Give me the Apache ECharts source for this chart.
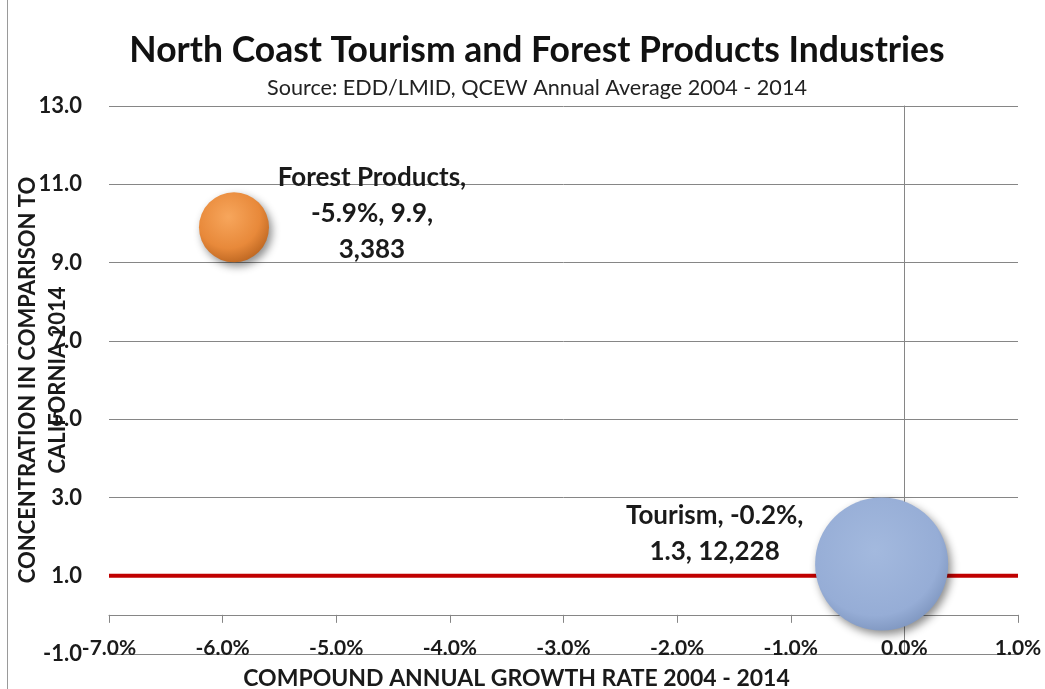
<!DOCTYPE html>
<html><head><meta charset="utf-8">
<script src="https://cdn.jsdelivr.net/npm/echarts@6/dist/echarts.min.js"></script>
<style>html,body{margin:0;padding:0;background:#fff}#c{width:1045px;height:689px}</style>
</head><body><div id="c"></div>
<script>
const categories = ['Forest Products', 'Tourism'];
const growthRate = [-5.9, -0.2];       // % CAGR 2004-2014
const concentration = [9.9, 1.3];      // location quotient 2014
const employment = [3383, 12228];      // bubble size
const referenceLevel = 1.0;
const xMin = -7, xMax = 1, xStep = 1;
const yMin = -1, yMax = 13, yStep = 2;

const FONT = 'Lato';
const txt = '#1a1a1a';
const fmtInt = v => v.toLocaleString('en-US');
const sizeK = 70 / Math.sqrt(3383);

const bubbleStyles = [
  { color: { type: 'radial', x: 0.42, y: 0.35, r: 0.75,
      colorStops: [{offset:0,color:'#F7A65C'},{offset:0.6,color:'#E8893A'},{offset:1,color:'#B05C1A'}] } },
  { color: { type: 'radial', x: 0.45, y: 0.4, r: 0.75,
      colorStops: [{offset:0,color:'#A3B9DE'},{offset:0.65,color:'#96ADD6'},{offset:1,color:'#6A82AC'}] } }
];
const labelFormats = [
  (n, x, y, s) => `${n},\n${x.toFixed(1)}%, ${y.toFixed(1)},\n${fmtInt(s)}`,
  (n, x, y, s) => `${n}, ${x.toFixed(1)}%,\n${y.toFixed(1)}, ${fmtInt(s)}`
];
const labelOffsets = [[138, -14], [-167, -30]];

const series = [{
  type: 'line',
  data: [[xMin, referenceLevel], [xMax, referenceLevel]],
  symbol: 'none',
  lineStyle: { color: '#C00000', width: 4 },
  silent: true, z: 1
}];
categories.forEach((name, i) => {
  series.push({
    type: 'scatter',
    name,
    data: [[growthRate[i], concentration[i], employment[i]]],
    symbolSize: d => sizeK * Math.sqrt(d[2]),
    itemStyle: Object.assign({ opacity: 1, shadowBlur: 8, shadowColor: 'rgba(0,0,0,0.45)', shadowOffsetX: 3, shadowOffsetY: 4 }, bubbleStyles[i]),
    label: {
      show: true, position: 'inside', offset: labelOffsets[i],
      formatter: p => labelFormats[i](name, p.value[0], p.value[1], p.value[2]),
      fontFamily: FONT, fontWeight: 'bold', fontSize: 26, lineHeight: 36, color: txt, align: 'center',
      textBorderWidth: 0
    },
    emphasis: { disabled: true },
    z: 10
  });
});

const chart = echarts.init(document.getElementById('c'));
chart.setOption({
  backgroundColor: '#fff',
  animation: false,
  title: {
    text: 'North Coast Tourism and Forest Products Industries',
    subtext: 'Source: EDD/LMID, QCEW Annual Average 2004 - 2014',
    left: 532, textAlign: 'center', top: 28, itemGap: 8,
    textStyle: { fontFamily: FONT, fontWeight: 'bold', fontSize: 35.5, color: '#111' },
    subtextStyle: { fontFamily: FONT, fontSize: 21.6, color: '#222' }
  },
  grid: { left: 109, right: 27, top: 106, bottom: 35, containLabel: false, outerBoundsMode: 'none' },
  xAxis: [{
    type: 'value', min: xMin, max: xMax, interval: xStep,
    axisLine: { show: true, onZero: true, lineStyle: { color: '#868686', width: 1 } },
    axisTick: { show: true, length: 8, lineStyle: { color: '#868686' } },
    axisLabel: { show: false }, splitLine: { show: false }
  }, {
    type: 'value', min: xMin, max: xMax, interval: xStep, position: 'bottom', offset: -16,
    axisLine: { show: false, onZero: false }, axisTick: { show: false }, splitLine: { show: false },
    axisLabel: { show: true, margin: 0, fontFamily: FONT, fontWeight: 'bold', fontSize: 21, color: txt,
      formatter: v => v.toFixed(1) + '%' },
    name: 'COMPOUND ANNUAL GROWTH RATE 2004 - 2014', nameLocation: 'middle', nameGap: 29, nameMoveOverlap: false,
    nameTextStyle: { fontFamily: FONT, fontWeight: 'bold', fontSize: 23, color: txt, padding: [0, 94, 0, 0] }
  }],
  yAxis: [{
    type: 'value', min: yMin, max: yMax, interval: yStep,
    axisLine: { show: true, onZero: true, lineStyle: { color: '#868686', width: 1 } },
    axisTick: { show: false }, axisLabel: { show: false },
    splitLine: { show: true, lineStyle: { color: '#868686', width: 1 } }
  }, {
    type: 'value', min: yMin, max: yMax, interval: yStep, position: 'left',
    axisLine: { show: false, onZero: false }, axisTick: { show: false }, splitLine: { show: false },
    axisLabel: { show: true, margin: 27, fontFamily: FONT, fontWeight: 'bold', fontSize: 22, color: txt,
      formatter: v => v.toFixed(1) },
    name: 'CONCENTRATION IN COMPARISON TO\nCALIFORNIA 2014', nameLocation: 'middle', nameRotate: 90, nameGap: 36,
    nameMoveOverlap: false,
    nameTextStyle: { fontFamily: FONT, fontWeight: 'bold', fontSize: 22, lineHeight: 30, color: txt, align: 'center' }
  }],
  graphic: [{ type: 'line', shape: { x1: 7.5, y1: 0, x2: 7.5, y2: 689 }, style: { stroke: '#9a9a9a', lineWidth: 1 } }],
  series
});
</script>
</body></html>
